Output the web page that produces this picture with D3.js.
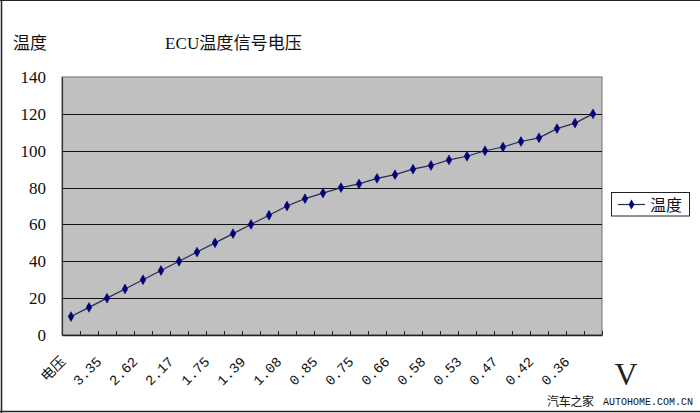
<!DOCTYPE html>
<html><head><meta charset="utf-8">
<script src="https://cdn.jsdelivr.net/npm/d3@7"></script>
<style>
html,body{margin:0;padding:0;background:#fff;}
svg{display:block;}
</style></head>
<body>
<svg id="c" width="700" height="413"></svg>
<script>
// ---- data ----
const seriesName = "温度";
const chartTitle = "ECU温度信号电压";
const yTitle = "温度";
const xUnit = "V";
// x tick labels (shown on every second category)
const tickLabels = ["电压","3.35","2.62","2.17","1.75","1.39","1.08","0.85","0.75","0.66","0.58","0.53","0.47","0.42","0.36"];
// temperature values, one per category
const temps = [10,15,20,25,30,35,40,45,50,55,60,65,70,74,77,80,82,85,87,90,92,95,97,100,102,105,107,112,115,120];
const yTicks = [0,20,40,60,80,100,120,140];
const categories = d3.range(temps.length);

const svg = d3.select("#c");
const W = 700, H = 413;
const m = {l:62, r:602, t:77, b:335};

// frame
svg.append("line").attr("x1",1.5).attr("x2",1.5).attr("y1",0).attr("y2",H).attr("stroke","#222").attr("stroke-width",1.5);
svg.append("line").attr("x1",0).attr("x2",W).attr("y1",0.5).attr("y2",0.5).attr("stroke","#222");
svg.append("line").attr("x1",0).attr("x2",W).attr("y1",411.5).attr("y2",411.5).attr("stroke","#222").attr("stroke-width",1.5);

const x = d3.scaleBand().domain(categories).range([m.l, m.r]).padding(0);
const y = d3.scaleLinear().domain([0,140]).range([m.b, m.t]);

// plot area
svg.append("rect").attr("x",m.l).attr("y",m.t).attr("width",m.r-m.l).attr("height",m.b-m.t)
  .attr("fill","#c0c0c0").attr("stroke","#808080").attr("stroke-width",1.2);

// gridlines
svg.append("g").selectAll("line").data(yTicks.filter(v=>v>0 && v<140)).join("line")
  .attr("x1",m.l).attr("x2",m.r).attr("y1",d=>Math.round(y(d))+0.5).attr("y2",d=>Math.round(y(d))+0.5)
  .attr("stroke","#111").attr("stroke-width",1.2);

// y axis
const ya = svg.append("g").attr("transform",`translate(${m.l},0)`)
  .call(d3.axisLeft(y).tickValues(yTicks).tickSize(0).tickPadding(16));
ya.select(".domain").attr("stroke","#333").attr("stroke-width",1.2);
ya.selectAll("text").attr("font-family","'Liberation Serif','DejaVu Serif',serif").attr("font-size","17px").attr("fill","#111");

// x axis
const xa = svg.append("g").attr("transform",`translate(0,${m.b})`)
  .call(d3.axisBottom(x).tickSize(0).tickFormat(i => i%2===0 ? tickLabels[i/2] : ""));
xa.select(".domain").attr("stroke","#222").attr("stroke-width",1.5);
xa.selectAll(".tick text")
  .attr("font-family","'Liberation Mono','Noto Sans CJK SC',monospace").attr("font-size","14px").attr("fill","#111")
  .attr("text-anchor","end").attr("dy","0.35em")
  .attr("transform","translate(-8,24) rotate(-45)")
  .attr("y",0).attr("x",0);
// inward tick marks at category boundaries
svg.append("g").selectAll("line").data(categories.slice(1)).join("line")
  .attr("x1",d=>Math.round(x(d))+0.5).attr("x2",d=>Math.round(x(d))+0.5)
  .attr("y1",m.b).attr("y2",m.b-4).attr("stroke","#222");
svg.append("line").attr("x1",m.r+0.5).attr("x2",m.r+0.5).attr("y1",m.b).attr("y2",m.b-4).attr("stroke","#222");

// series line
const cx = i => x(i) + x.bandwidth()/2;
svg.append("path").datum(temps)
  .attr("d", d3.line().x((d,i)=>cx(i)).y(d=>y(d)))
  .attr("fill","none").attr("stroke","#2a2a55").attr("stroke-width",1.2);
const diamond = d3.symbol().type(d3.symbolDiamond).size(28);
svg.append("g").selectAll("path").data(temps).join("path")
  .attr("d", diamond)
  .attr("transform",(d,i)=>`translate(${cx(i)},${y(d)})`)
  .attr("fill","#000080").attr("stroke","#000060").attr("stroke-width",0.5);

// titles
const cjk = "'Noto Sans CJK SC','Liberation Serif',serif";
svg.append("text").attr("x",13).attr("y",49).text(yTitle)
  .attr("font-family",cjk).attr("font-size","17px").attr("fill","#111");
svg.append("text").attr("x",165).attr("y",49).text(chartTitle)
  .attr("font-family","'Liberation Serif','Noto Sans CJK SC',serif").attr("font-size","17px").attr("fill","#111")
  .attr("textLength",137).attr("lengthAdjust","spacingAndGlyphs");

// unit V
svg.append("text").attr("x",626).attr("y",385).attr("text-anchor","middle").text(xUnit)
  .attr("font-family","'Liberation Serif',serif").attr("font-size","32px").attr("fill","#222");

// legend
const lg = svg.append("g");
lg.append("rect").attr("x",611.5).attr("y",192.5).attr("width",78).attr("height",23.5)
  .attr("fill","#fff").attr("stroke","#222").attr("stroke-width",1);
lg.append("line").attr("x1",618).attr("x2",645).attr("y1",204.5).attr("y2",204.5).attr("stroke","#2a2a55").attr("stroke-width",1.2);
lg.append("path").attr("d",diamond).attr("transform","translate(631.5,204.5)").attr("fill","#000080");
lg.append("text").attr("x",650).attr("y",211).text(seriesName)
  .attr("font-family",cjk).attr("font-size","16px").attr("fill","#111");

// watermark
svg.append("text").attr("x",547).attr("y",406).text("汽车之家")
  .attr("font-family",cjk).attr("font-size","12px").attr("fill","#111").attr("textLength",47);
svg.append("text").attr("x",603).attr("y",405).text("AUTOHOME.COM.CN")
  .attr("font-family","'Liberation Mono',monospace").attr("font-size","10px").attr("fill","#111")
  .attr("textLength",90).attr("lengthAdjust","spacingAndGlyphs");
</script>
</body></html>
